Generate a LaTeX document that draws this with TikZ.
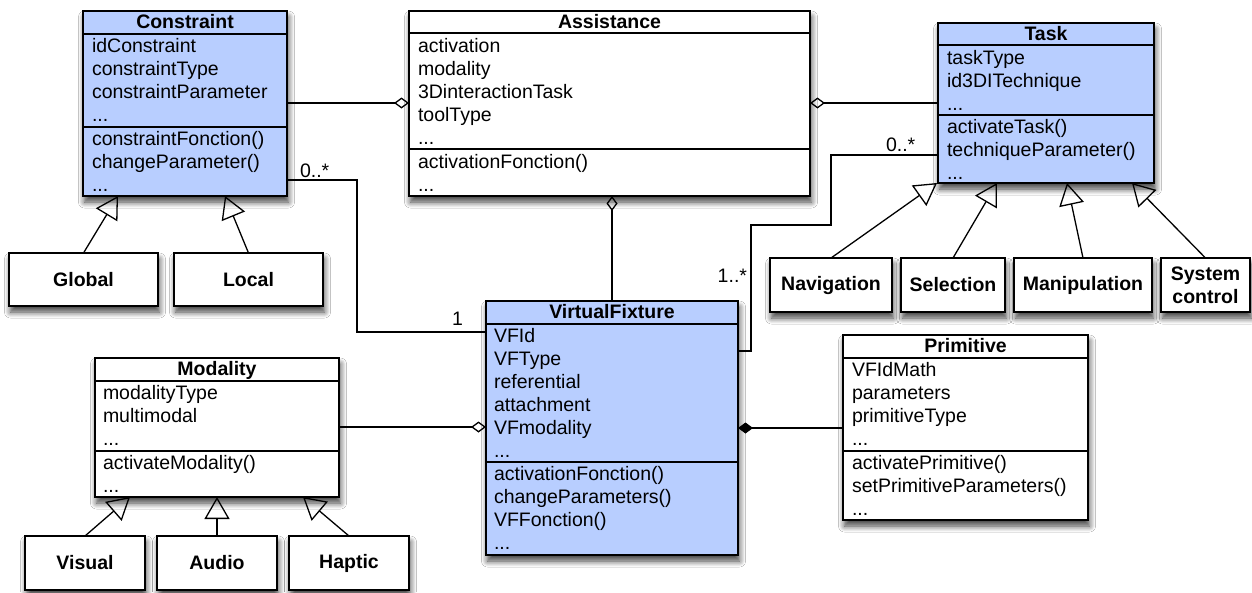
\documentclass[tikz,border=0pt]{standalone}
\usepackage{fontspec}
\setmainfont{Liberation Sans}
\usetikzlibrary{arrows.meta,shadows.blur,calc}
\definecolor{clsblue}{RGB}{184,206,255}
\tikzset{
  umlbox/.style={draw=black, line width=1.3pt, fill=white, inner sep=0pt, outer sep=0pt, anchor=north west,
    blur shadow={shadow xshift=1.5pt, shadow yshift=-6pt, shadow blur radius=6pt, shadow blur steps=8, shadow opacity=75}},
  bluebox/.style={umlbox, fill=clsblue},
  simplebox/.style={umlbox, font=\fontsize{19.5}{23}\selectfont\bfseries, align=center},
  txt/.style={inner sep=0pt, outer sep=0pt, anchor=base west},
  ttl/.style={inner sep=0pt, outer sep=0pt, anchor=base, font=\fontsize{19.5}{23}\selectfont\bfseries},
  sepline/.style={line width=1.3pt},
  conn/.style={line width=1.3pt},
  gen/.style={line width=1.3pt, -{Triangle[open, length=22pt, width=25pt]}},
}
\begin{document}
\begin{tikzpicture}[x=1pt, y=-1pt, font=\fontsize{19.5}{23}\selectfont]
\fill[white] (0,0) rectangle (1252,592);
\useasboundingbox (0,0) rectangle (1252,592);

% ---------- Constraint ----------
\node[bluebox, minimum width=204pt, minimum height=185pt] (constraint) at (83,11) {};
\draw[sepline] ($(constraint.north west)+(0,23)$) -- ($(constraint.north east)+(0,23)$);
\draw[sepline] ($(constraint.north west)+(0,116)$) -- ($(constraint.north east)+(0,116)$);
\node[ttl] (constraint-t) at (185,28) {Constraint};
\node[txt] (constraint-a1) at (92,52) {idConstraint};
\node[txt] (constraint-a2) at (92,75) {constraintType};
\node[txt] (constraint-a3) at (92,98) {constraintParameter};
\node[txt] (constraint-a4) at (92,121) {...};
\node[txt] (constraint-m1) at (92,145) {constraintFonction()};
\node[txt] (constraint-m2) at (92,168) {changeParameter()};
\node[txt] (constraint-m3) at (92,191) {...};

% ---------- Assistance ----------
\node[umlbox, minimum width=401pt, minimum height=185pt] (assistance) at (409,11) {};
\draw[sepline] ($(assistance.north west)+(0,22)$) -- ($(assistance.north east)+(0,22)$);
\draw[sepline] ($(assistance.north west)+(0,138)$) -- ($(assistance.north east)+(0,138)$);
\node[ttl] (assistance-t) at (609.5,28) {Assistance};
\node[txt] (assistance-a1) at (418,52) {activation};
\node[txt] (assistance-a2) at (418,75) {modality};
\node[txt] (assistance-a3) at (418,98) {3DinteractionTask};
\node[txt] (assistance-a4) at (418,121) {toolType};
\node[txt] (assistance-a5) at (418,144) {...};
\node[txt] (assistance-m1) at (418,168) {activationFonction()};
\node[txt] (assistance-m2) at (418,191) {...};

% ---------- Task ----------
\node[bluebox, minimum width=216pt, minimum height=160pt] (task) at (938,23) {};
\draw[sepline] ($(task.north west)+(0,22)$) -- ($(task.north east)+(0,22)$);
\draw[sepline] ($(task.north west)+(0,92)$) -- ($(task.north east)+(0,92)$);
\node[ttl] (task-t) at (1046,40) {Task};
\node[txt] (task-a1) at (947,64) {taskType};
\node[txt] (task-a2) at (947,87) {id3DITechnique};
\node[txt] (task-a3) at (947,110) {...};
\node[txt] (task-m1) at (947,133) {activateTask()};
\node[txt] (task-m2) at (947,156) {techniqueParameter()};
\node[txt] (task-m3) at (947,179) {...};

% ---------- VirtualFixture ----------
\node[bluebox, minimum width=252pt, minimum height=254pt] (vf) at (486,301) {};
\draw[sepline] ($(vf.north west)+(0,23)$) -- ($(vf.north east)+(0,23)$);
\draw[sepline] ($(vf.north west)+(0,161)$) -- ($(vf.north east)+(0,161)$);
\node[ttl] (vf-t) at (612,318) {VirtualFixture};
\node[txt] (vf-a1) at (494,342) {VFId};
\node[txt] (vf-a2) at (494,365) {VFType};
\node[txt] (vf-a3) at (494,388) {referential};
\node[txt] (vf-a4) at (494,411) {attachment};
\node[txt] (vf-a5) at (494,434) {VFmodality};
\node[txt] (vf-a6) at (494,457) {...};
\node[txt] (vf-m1) at (494,480) {activationFonction()};
\node[txt] (vf-m2) at (494,503) {changeParameters()};
\node[txt] (vf-m3) at (494,526) {VFFonction()};
\node[txt] (vf-m4) at (494,549) {...};

% ---------- Modality ----------
\node[umlbox, minimum width=244pt, minimum height=139pt] (modality) at (95,358) {};
\draw[sepline] ($(modality.north west)+(0,23)$) -- ($(modality.north east)+(0,23)$);
\draw[sepline] ($(modality.north west)+(0,93)$) -- ($(modality.north east)+(0,93)$);
\node[ttl] (modality-t) at (217,375) {Modality};
\node[txt] (modality-a1) at (103,399) {modalityType};
\node[txt] (modality-a2) at (103,422) {multimodal};
\node[txt] (modality-a3) at (103,445) {...};
\node[txt] (modality-m1) at (103,469) {activateModality()};
\node[txt] (modality-m2) at (103,492) {...};

% ---------- Primitive ----------
\node[umlbox, minimum width=245pt, minimum height=185pt] (primitive) at (843,335) {};
\draw[sepline] ($(primitive.north west)+(0,23)$) -- ($(primitive.north east)+(0,23)$);
\draw[sepline] ($(primitive.north west)+(0,116)$) -- ($(primitive.north east)+(0,116)$);
\node[ttl] (primitive-t) at (965.5,352) {Primitive};
\node[txt] (primitive-a1) at (852,376) {VFIdMath};
\node[txt] (primitive-a2) at (852,399) {parameters};
\node[txt] (primitive-a3) at (852,422) {primitiveType};
\node[txt] (primitive-a4) at (852,445) {...};
\node[txt] (primitive-m1) at (852,469) {activatePrimitive()};
\node[txt] (primitive-m2) at (852,492) {setPrimitiveParameters()};
\node[txt] (primitive-m3) at (852,515) {...};

% ---------- Sub classes ----------
\node[simplebox, minimum width=149pt, minimum height=53pt] (global) at (9,253) {Global};
\node[simplebox, minimum width=149pt, minimum height=53pt] (local) at (174,253) {Local};
\node[simplebox, minimum width=122pt, minimum height=54pt] (navigation) at (770,258) {Navigation};
\node[simplebox, minimum width=104pt, minimum height=54pt] (selection) at (901,258) {Selection};
\node[simplebox, minimum width=138pt, minimum height=54pt] (manipulation) at (1014,258) {Manipulation};
\node[simplebox, minimum width=89pt, minimum height=54pt] (syscontrol) at (1161,258) {System\\control};
\node[simplebox, minimum width=120pt, minimum height=54pt] (visual) at (25,536) {Visual};
\node[simplebox, minimum width=120pt, minimum height=54pt] (audio) at (157,536) {Audio};
\node[simplebox, minimum width=120pt, minimum height=54pt] (haptic) at (289,536) {Haptic};

% ---------- Associations ----------
\draw[conn, -{Diamond[open, length=15pt, width=11pt]}] (constraint.east |- 0,103) -- (assistance.west |- 0,103);
\draw[conn, -{Diamond[open, length=15pt, width=11pt]}] (task.west |- 0,103) -- (assistance.east |- 0,103);
\draw[conn, {Diamond[open, length=15pt, width=11pt]}-] (vf.north |- assistance.south) -- (vf.north);
\draw[conn] (constraint.east |- 0,180) -- (357,180) -- (357,332) -- (vf.west |- 0,332);
\draw[conn] (task.west |- 0,155) -- (831,155) -- (831,225) -- (751,225) -- (751,351) -- (vf.east |- 0,351);
\draw[conn, -{Diamond[open, length=15pt, width=11pt]}] (modality.east |- 0,427) -- (vf.west |- 0,427);
\draw[conn, -{Diamond[length=15pt, width=11pt]}] (primitive.west |- 0,428) -- (vf.east |- 0,428);

% ---------- Generalizations ----------
\draw[gen] (global.north) -- (constraint.south -| 118,0);
\draw[gen] (local.north) -- (constraint.south -| 225,0);
\draw[gen] (navigation.north) -- (task.south -| 937,0);
\draw[gen] (selection.north) -- (task.south -| 997,0);
\draw[gen] (manipulation.north) -- (task.south -| 1067,0);
\draw[gen] (syscontrol.north) -- (task.south -| 1132,0);
\draw[gen] (visual.north) -- (modality.south -| 130,0);
\draw[gen] (audio.north) -- (modality.south -| 217,0);
\draw[gen] (haptic.north) -- (modality.south -| 303,0);

% ---------- Multiplicities ----------
\node[txt] (m-constraint) at (300,177) {0..*};
\node[txt] (m-vf1) at (452,325) {1};
\node[txt] (m-task) at (886,151) {0..*};
\node[txt, anchor=base east] (m-vf2) at (747,282) {1..*};
\end{tikzpicture}
\end{document}
